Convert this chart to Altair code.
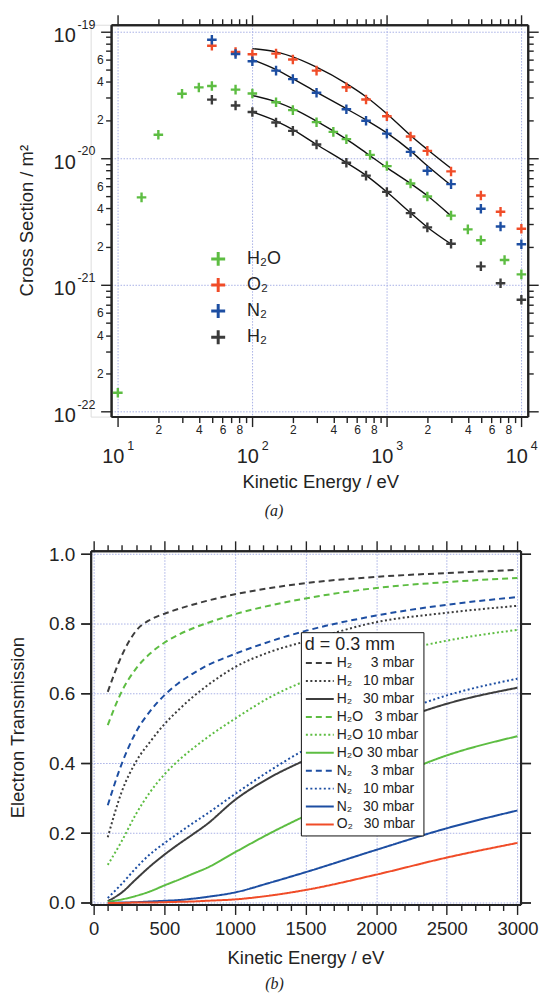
import altair as alt
import pandas as pd

FONT = "Liberation Sans, Noto Sans"
INK = "#232323"
GRID = "#a9b1e6"

# ---------------- (a) electron scattering cross sections ----------------
# cross sections are listed in units of 1e-20 m^2
UNIT = 1e-20
gases = ["H₂O", "O₂", "N₂", "H₂"]
gas_colors = ["#5dbd42", "#f04c28", "#1d4ea2", "#3b3b3b"]

energy_h2o = [10, 15, 20, 30, 40, 50, 75, 100, 150, 200, 300, 400, 500, 750,
              1000, 1500, 2000, 3000, 4000, 5000, 7500, 10000]
sigma_h2o = [0.0141, 0.49, 1.53, 3.22, 3.61, 3.70, 3.47, 3.23, 2.76, 2.39, 1.92,
             1.61, 1.41, 1.06, 0.865, 0.63, 0.498, 0.352, 0.274, 0.225, 0.157, 0.121]

energy_gas = [50, 75, 100, 150, 200, 300, 500, 700, 1000, 1500, 2000, 3000,
              5000, 7000, 10000]
sigma_o2 = [7.70, 6.87, 6.60, 6.67, 6.00, 4.90, 3.62, 2.90, 2.14, 1.48, 1.14,
            0.785, 0.507, 0.377, 0.277]
sigma_n2 = [8.59, 6.62, 5.80, 4.90, 4.20, 3.28, 2.43, 1.97, 1.56, 1.12, 0.794,
            0.623, 0.398, 0.289, 0.209]
sigma_h2 = [2.89, 2.60, 2.31, 1.91, 1.64, 1.28, 0.92, 0.727, 0.541, 0.368, 0.284,
            0.211, 0.140, 0.103, 0.0762]

fit_energy = [100, 150, 200, 300, 500, 700, 1000, 1500, 2000, 3000]
fit_o2 = [7.30, 6.88, 6.28, 5.21, 3.87, 3.05, 2.24, 1.51, 1.17, 0.83]
fit_n2 = [5.98, 4.99, 4.24, 3.31, 2.45, 2.00, 1.58, 1.14, 0.87, 0.61]
fit_h2o = [3.12, 2.78, 2.46, 1.96, 1.41, 1.10, 0.84, 0.63, 0.505, 0.35]
fit_h2 = [2.31, 1.96, 1.68, 1.28, 0.92, 0.73, 0.54, 0.37, 0.285, 0.21]

x_decades = [10, 100, 1000, 10000]
x_exponents = ["1", "2", "3", "4"]
y_decades = [1e-22, 1e-21, 1e-20, 1e-19]
y_exponents = ["-22", "-21", "-20", "-19"]

# ---------------- (b) electron transmission through 0.3 mm of gas ----------------
energy_b = [100, 200, 300, 400, 500, 600, 700, 800, 1000, 1250, 1500, 2000, 2500, 3000]
t_h2_3 = [0.605, 0.71, 0.78, 0.812, 0.829, 0.843, 0.855, 0.866, 0.885, 0.903, 0.917, 0.935, 0.946, 0.955]
t_h2_10 = [0.188, 0.32, 0.405, 0.462, 0.512, 0.553, 0.59, 0.622, 0.676, 0.72, 0.75, 0.805, 0.832, 0.852]
t_h2_30 = [0.005, 0.03, 0.068, 0.105, 0.138, 0.168, 0.196, 0.225, 0.295, 0.36, 0.41, 0.50, 0.571, 0.617]
t_h2o_3 = [0.51, 0.607, 0.672, 0.715, 0.746, 0.769, 0.787, 0.802, 0.828, 0.853, 0.873, 0.903, 0.92, 0.932]
t_h2o_10 = [0.109, 0.178, 0.255, 0.318, 0.368, 0.408, 0.442, 0.473, 0.528, 0.59, 0.637, 0.705, 0.752, 0.783]
t_h2o_30 = [0.003, 0.01, 0.02, 0.033, 0.05, 0.066, 0.083, 0.10, 0.145, 0.2, 0.25, 0.341, 0.423, 0.478]
t_n2_3 = [0.28, 0.40, 0.49, 0.55, 0.595, 0.63, 0.657, 0.68, 0.714, 0.75, 0.78, 0.824, 0.855, 0.877]
t_n2_10 = [0.014, 0.055, 0.10, 0.14, 0.171, 0.20, 0.228, 0.255, 0.312, 0.38, 0.44, 0.522, 0.595, 0.643]
t_n2_30 = [0.0, 0.001, 0.002, 0.004, 0.006, 0.008, 0.012, 0.017, 0.03, 0.058, 0.088, 0.152, 0.214, 0.265]
t_o2_30 = [0.0, 0.0, 0.001, 0.001, 0.002, 0.003, 0.004, 0.006, 0.01, 0.021, 0.037, 0.081, 0.13, 0.172]

curve_specs = [  # gas, pressure (mbar), colour, dash, values
    ("H₂", 3, "#3d3d3d", [6, 4], t_h2_3),
    ("H₂", 10, "#3d3d3d", [2, 2.5], t_h2_10),
    ("H₂", 30, "#3d3d3d", [1, 0], t_h2_30),
    ("H₂O", 3, "#5dbd42", [6, 4], t_h2o_3),
    ("H₂O", 10, "#5dbd42", [2, 2.5], t_h2o_10),
    ("H₂O", 30, "#5dbd42", [1, 0], t_h2o_30),
    ("N₂", 3, "#1d4ea2", [6, 4], t_n2_3),
    ("N₂", 10, "#1d4ea2", [2, 2.5], t_n2_10),
    ("N₂", 30, "#1d4ea2", [1, 0], t_n2_30),
    ("O₂", 30, "#f04c28", [1, 0], t_o2_30),
]

# ---------------- tables ----------------
points = []
for gas, es, ss in [("H₂O", energy_h2o, sigma_h2o), ("O₂", energy_gas, sigma_o2),
                    ("N₂", energy_gas, sigma_n2), ("H₂", energy_gas, sigma_h2)]:
    points += [{"gas": gas, "energy": e, "sigma": s * UNIT} for e, s in zip(es, ss)]
df_pts = pd.DataFrame(points)

fits = []
for gas, ss in [("O₂", fit_o2), ("N₂", fit_n2), ("H₂O", fit_h2o), ("H₂", fit_h2)]:
    fits += [{"gas": gas, "energy": e, "sigma": s * UNIT} for e, s in zip(fit_energy, ss)]
df_fit = pd.DataFrame(fits)

df_xdec = pd.DataFrame({"v": x_decades, "exp": x_exponents})
df_ydec = pd.DataFrame({"v": y_decades, "exp": y_exponents})
df_one = pd.DataFrame({"k": [0]})

# legend labels with the pressure column lined up
species_col = {"H₂": "H₂\u2002 ", "H₂O": "H₂O", "N₂": "N₂\u2002 ", "O₂": "O₂\u2002 "}
curve_names, curve_colors, curve_dashes, rows = [], [], [], []
for gas, p, col, dash, vals in curve_specs:
    pad = "\u2007" if p < 10 else ""
    name = f"{species_col[gas]} {pad}{p} mbar"
    curve_names.append(name)
    curve_colors.append(col)
    curve_dashes.append(dash)
    rows += [{"curve": name, "energy": e, "T": t} for e, t in zip(energy_b, vals)]
df_b = pd.DataFrame(rows)


# ---------------- axis helpers ----------------
def axis(**kw):
    base = dict(domainColor=INK, domainWidth=2, tickColor=INK, tickWidth=1.4,
                labelColor=INK, labelFont=FONT, title=None, labels=False, grid=False,
                gridColor=GRID, gridDash=[1.5, 1.5], gridWidth=1,
                labelOverlap=False, labelFlush=False)
    base.update(kw)
    return alt.Axis(**base)


def ghost(df, xf, yf, xs, ys, xa, ya):
    """Invisible marks that only carry a pair of axes."""
    return alt.Chart(df).mark_point(opacity=0).encode(
        x=alt.X(xf, scale=xs, axis=xa), y=alt.Y(yf, scale=ys, axis=ya))


def text(df, txt, size, **kw):
    return alt.Chart(df).mark_text(text=txt, font=FONT, fontSize=size, color=INK, **kw)


# ================= panel (a) =================
# the plot area starts at the same left edge as panel (b); the frame of (a)
# begins INSET pixels further right, so the left axes are pulled inwards and
# the first INSET pixels of the horizontal lines are left blank
INSET = 20.5
W1, H1 = 438.7, 393.3
xs1 = alt.Scale(type="log", domain=[6.278, 11153], nice=False)
ys1 = alt.Scale(type="log", domain=[9.135e-23, 1.1269e-19], nice=False)

x_minor = [m * 10 ** k for k in (1, 2, 3) for m in range(2, 10)]
y_minor = [m * 10.0 ** k for k in (-22, -21, -20) for m in range(2, 10)]
LEAD = "round(datum.value / pow(10, floor(log(datum.value)/LN10 + 0.001)))"
skip_dash = [0, INSET, 2000]
skip_dots = [0, INSET] + [1.5, 1.5] * 160

a_ax1 = ghost(df_pts, "energy:Q", "sigma:Q", xs1, ys1,
              axis(orient="bottom", values=x_minor, tickSize=6, labels=True,
                   labelExpr=f"{LEAD} % 2 == 0 ? '' + {LEAD} : ''",
                   labelFontSize=12, labelPadding=2, domainDash=skip_dash),
              axis(orient="left", values=y_minor, tickSize=5.5, labels=True, offset=-INSET,
                   labelExpr=f"({LEAD} % 2 == 0 && {LEAD} < 8) ? '' + {LEAD} : ''",
                   labelFontSize=12, labelPadding=2.5))
a_ax2 = ghost(df_pts, "energy:Q", "sigma:Q", xs1, ys1,
              axis(orient="top", values=x_minor, tickSize=6, domainDash=skip_dash),
              axis(orient="right", values=y_minor, tickSize=5.5))
a_ax3 = ghost(df_pts, "energy:Q", "sigma:Q", xs1, ys1,
              axis(orient="bottom", values=x_decades, tickSize=10, grid=True,
                   domainDash=skip_dash),
              axis(orient="left", values=y_decades, tickSize=10.5, grid=True,
                   offset=-INSET, gridDash=skip_dots))

cross = "M-1,0L1,0M0,-1L0,1"
pts_layer = alt.Chart(df_pts).mark_point(shape=cross, size=92, filled=False,
                                         strokeWidth=2.4, opacity=1).encode(
    x=alt.X("energy:Q", scale=xs1, axis=None),
    y=alt.Y("sigma:Q", scale=ys1, axis=None),
    color=alt.Color("gas:N", scale=alt.Scale(domain=gases, range=gas_colors),
                    legend=alt.Legend(title=None, orient="none", legendX=119, legendY=226,
                                      symbolType=cross, symbolSize=196, symbolStrokeWidth=3,
                                      labelFontSize=18, labelFont=FONT, labelColor=INK,
                                      rowPadding=0.2, labelOffset=20, padding=0)),
)

fit_layer = alt.Chart(df_fit).mark_line(color="#111111", strokeWidth=1.4,
                                        interpolate="monotone").encode(
    x=alt.X("energy:Q", scale=xs1,
            axis=axis(orient="top", values=x_decades, tickSize=10, domainDash=skip_dash)),
    y=alt.Y("sigma:Q", scale=ys1,
            axis=axis(orient="right", values=y_decades, tickSize=10.5)),
    detail="gas:N",
)

xdec_ten = text(df_xdec, "10", 20, align="right", baseline="alphabetic", dx=6.6).encode(
    x=alt.X("v:Q", scale=xs1, axis=None), y=alt.value(H1 + 46.7))
xdec_exp = alt.Chart(df_xdec).mark_text(font=FONT, fontSize=12.5, color=INK, align="left",
                                        baseline="alphabetic", dx=9.5).encode(
    x=alt.X("v:Q", scale=xs1, axis=None), y=alt.value(H1 + 33.3), text="exp:N")
ydec_ten = text(df_ydec, "10", 20, align="right", baseline="alphabetic", dy=10.6).encode(
    y=alt.Y("v:Q", scale=ys1, axis=None), x=alt.value(-15))
ydec_exp = alt.Chart(df_ydec).mark_text(font=FONT, fontSize=12.5, color=INK, align="left",
                                        baseline="alphabetic", dy=-2.7).encode(
    y=alt.Y("v:Q", scale=ys1, axis=None), x=alt.value(-13.3), text="exp:N")

a_xtitle = text(df_one, "Kinetic Energy / eV", 18.5, align="center",
                baseline="alphabetic").encode(x=alt.value(231), y=alt.value(H1 + 71.6))
a_ytitle = text(df_one, "Cross Section / m²", 18.5, align="center", baseline="middle",
                angle=270).encode(x=alt.value(-64), y=alt.value(H1 / 2))
cap_a = alt.Chart(df_one).mark_text(text="(a)", font="Liberation Serif", fontSize=16,
                                    fontStyle="italic", color=INK, baseline="middle").encode(
    x=alt.value(184), y=alt.value(H1 + 94.5))

anchor_a = alt.Chart(df_one).mark_rule(strokeOpacity=0, opacity=0).encode(
    x=alt.value(0), y=alt.value(-21.7), y2=alt.value(H1 + 117))

panel_a = alt.layer(
    a_ax1, a_ax2, a_ax3, fit_layer, pts_layer, xdec_ten, xdec_exp, ydec_ten, ydec_exp,
    a_xtitle, a_ytitle, cap_a, anchor_a
).resolve_axis(x="independent", y="independent").properties(width=W1, height=H1)

# ================= panel (b) =================
W2, H2 = 431.5, 355
xs2 = alt.Scale(domain=[-21, 3022], nice=False, zero=False)
ys2 = alt.Scale(domain=[-0.0046, 1.0097], nice=False, zero=False)

b_major = list(range(0, 3001, 500))
b_minor = [v for v in range(100, 3000, 100) if v % 500]
b_yticks = [0.0, 0.2, 0.4, 0.6, 0.8, 1.0]

b_ax1 = ghost(df_b, "energy:Q", "T:Q", xs2, ys2,
              axis(orient="bottom", values=b_major, tickSize=10, labels=True, format="d",
                   labelFontSize=18.5, labelPadding=5, grid=True),
              axis(orient="left", values=b_yticks, tickSize=10, labels=True, format=".1f",
                   labelFontSize=19, labelPadding=6, grid=True))
b_ax2 = ghost(df_b, "energy:Q", "T:Q", xs2, ys2,
              axis(orient="top", values=b_major, tickSize=10),
              axis(orient="right", values=b_yticks, tickSize=10))
b_ax3 = ghost(df_b, "energy:Q", "T:Q", xs2, ys2,
              axis(orient="bottom", values=b_minor, tickSize=6),
              axis(orient="left", values=b_yticks, tickSize=10))
b_ax4 = ghost(df_b, "energy:Q", "T:Q", xs2, ys2,
              axis(orient="top", values=b_minor, tickSize=6),
              axis(orient="right", values=b_yticks, tickSize=10))

legend_b = alt.Legend(title="d = 0.3 mm", titleFontSize=18, titleFont=FONT, titleColor=INK,
                      titleFontWeight="normal", titlePadding=1, labelFont=FONT,
                      labelFontSize=14, labelColor=INK, symbolType="M-2,0L2,0",
                      symbolSize=196, symbolOffset=7, symbolStrokeWidth=2, labelOffset=9,
                      rowPadding=3, padding=4, strokeColor="#111111", fillColor="white",
                      orient="none", legendX=211, legendY=81.7)

lines_b = alt.Chart(df_b).mark_line(strokeWidth=2, interpolate="monotone").encode(
    x=alt.X("energy:Q", scale=xs2, axis=None),
    y=alt.Y("T:Q", scale=ys2, axis=None),
    color=alt.Color("curve:N", scale=alt.Scale(domain=curve_names, range=curve_colors),
                    legend=legend_b),
    strokeDash=alt.StrokeDash("curve:N", scale=alt.Scale(domain=curve_names, range=curve_dashes),
                              legend=legend_b),
)

b_xtitle = text(df_one, "Kinetic Energy / eV", 18.5, align="center",
                baseline="alphabetic").encode(x=alt.value(216), y=alt.value(H2 + 59.7))
b_ytitle = text(df_one, "Electron Transmission", 18.5, align="center", baseline="middle",
                angle=270).encode(x=alt.value(-73), y=alt.value(H2 / 2))
cap_b = alt.Chart(df_one).mark_text(text="(b)", font="Liberation Serif", fontSize=16,
                                    fontStyle="italic", color=INK, baseline="middle").encode(
    x=alt.value(184.5), y=alt.value(H2 + 79.7))

anchor_b = alt.Chart(df_one).mark_rule(strokeOpacity=0, opacity=0).encode(
    x=alt.value(-90), y=alt.value(-16.3), y2=alt.value(0))

panel_b = alt.layer(
    b_ax1, b_ax2, b_ax3, b_ax4, lines_b, b_xtitle, b_ytitle, cap_b, anchor_b
).resolve_axis(x="independent", y="independent").properties(width=W2, height=H2)

chart = alt.vconcat(panel_a, panel_b, spacing=0).resolve_scale(
    color="independent", strokeDash="independent"
).resolve_legend(color="independent", strokeDash="independent").properties(
    padding=0, background="white"
).configure_view(stroke=None).configure(font=FONT)

chart.save("out.html", embed_options={"renderer": "svg", "actions": False})
